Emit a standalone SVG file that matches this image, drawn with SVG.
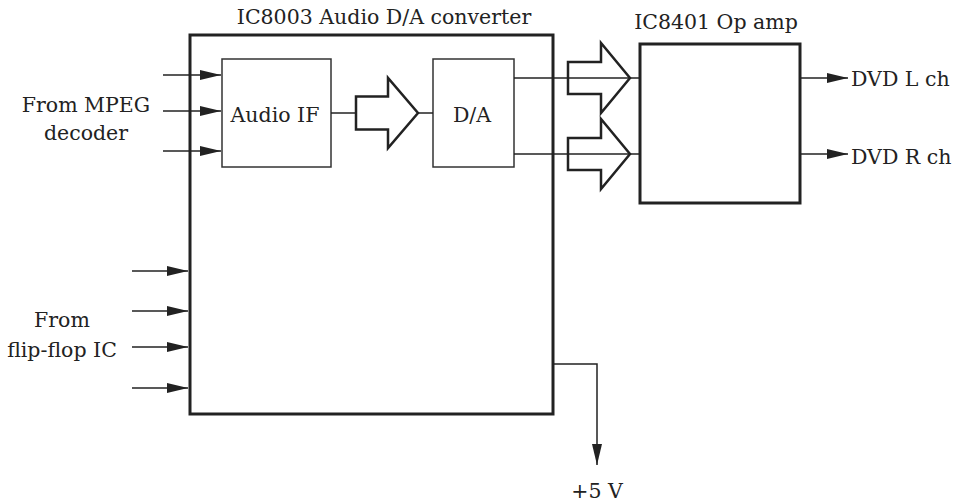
<svg xmlns="http://www.w3.org/2000/svg" width="962" height="502" viewBox="0 0 962 502">
<style>
text{font-family:"DejaVu Serif","Liberation Serif","Times New Roman",serif;font-size:20.5px;fill:#222;}
.mid{text-anchor:middle;}
.big{fill:#fff;stroke:#222;stroke-width:3;}
.small{fill:#fff;stroke:#333;stroke-width:1.5;}
.hollow{fill:#fff;stroke:#222;stroke-width:2.5;stroke-linejoin:miter;}
.wire{fill:none;stroke:#222;stroke-width:1.5;}
.arr{fill:none;stroke:#222;stroke-width:1.5;marker-end:url(#ah);}
</style>
<defs>
<marker id="ah" markerUnits="userSpaceOnUse" markerWidth="21" markerHeight="10" refX="21" refY="5" orient="auto" viewBox="0 0 21 10">
<path d="M0,0 L21,5 L0,10 z" fill="#222"/>
</marker>
</defs>
<g id="dac">
<rect class="big" x="190" y="35" width="363" height="379"/>
<text class="mid" x="384" y="24">IC8003 Audio D/A converter</text>
</g>
<g id="audio-if">
<rect class="small" x="222" y="59" width="109" height="108"/>
<text class="mid" x="275" y="122">Audio IF</text>
</g>
<g id="da">
<rect class="small" x="433" y="59" width="81" height="108"/>
<text class="mid" x="472" y="122">D/A</text>
</g>
<g id="opamp">
<rect class="big" x="640" y="44" width="160" height="159"/>
<text class="mid" x="716" y="29">IC8401 Op amp</text>
</g>
<g id="labels">
<text class="mid" x="86" y="112">From MPEG</text>
<text class="mid" x="86" y="140">decoder</text>
<text class="mid" x="62" y="327">From</text>
<text class="mid" x="62" y="357">flip-flop IC</text>
<text x="851" y="86">DVD L ch</text>
<text x="851" y="164">DVD R ch</text>
<text class="mid" x="597" y="498">+5 V</text>
</g>
<g id="connectors">
<polygon class="hollow" points="356,96.5 388,96.5 388,78 418,113 388,148 388,129.5 356,129.5"/>
<polygon class="hollow" points="568,62 601,62 601,43 630,78 601,113 601,94 568,94"/>
<polygon class="hollow" points="568,138 601,138 601,119 630,154 601,189 601,170 568,170"/>
<line class="wire" x1="331" y1="113" x2="356" y2="113"/>
<line class="wire" x1="418" y1="113" x2="433" y2="113"/>
<line class="wire" x1="514" y1="78" x2="640" y2="78"/>
<line class="wire" x1="514" y1="154" x2="640" y2="154"/>
<line class="arr" x1="163" y1="75" x2="221" y2="75"/>
<line class="arr" x1="163" y1="111" x2="221" y2="111"/>
<line class="arr" x1="163" y1="151" x2="221" y2="151"/>
<line class="arr" x1="132" y1="271" x2="188" y2="271"/>
<line class="arr" x1="132" y1="311" x2="188" y2="311"/>
<line class="arr" x1="132" y1="347" x2="188" y2="347"/>
<line class="arr" x1="132" y1="388" x2="188" y2="388"/>
<line class="arr" x1="800" y1="78" x2="848" y2="78"/>
<line class="arr" x1="800" y1="154" x2="848" y2="154"/>
<polyline class="arr" points="553,364 597,364 597,465"/>
</g>
</svg>
